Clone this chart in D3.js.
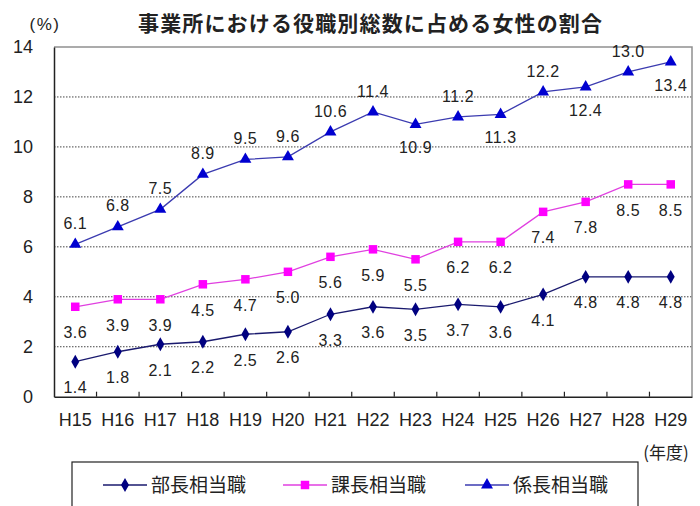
<!DOCTYPE html>
<html>
<head>
<meta charset="utf-8">
<script src="https://cdn.jsdelivr.net/npm/d3@7"></script>
<style>
  body { margin: 0; background: #fff; }
  text { font-family: "Liberation Sans", Arial, sans-serif; fill: #222; }
  .jp { font-family: "Noto Sans CJK JP", sans-serif; }
</style>
</head>
<body>
<div id="chart"></div>
<script>
// data
var years = ["H15","H16","H17","H18","H19","H20","H21","H22","H23","H24","H25","H26","H27","H28","H29"];
var bucho = [1.4,1.8,2.1,2.2,2.5,2.6,3.3,3.6,3.5,3.7,3.6,4.1,4.8,4.8,4.8];
var kacho = [3.6,3.9,3.9,4.5,4.7,5.0,5.6,5.9,5.5,6.2,6.2,7.4,7.8,8.5,8.5];
var kakaricho = [6.1,6.8,7.5,8.9,9.5,9.6,10.6,11.4,10.9,11.2,11.3,12.2,12.4,13.0,13.4];
var seriesNames = ["部長相当職","課長相当職","係長相当職"];
var yTicks = [0,2,4,6,8,10,12,14];

var svgWidth = 700, svgHeight = 506;
var margin = {top: 47, right: 8, bottom: 109, left: 54};

var svg = d3.select("#chart").append("svg")
  .attr("width", svgWidth)
  .attr("height", svgHeight);

var x = d3.scaleBand()
  .domain(years)
  .range([margin.left, svgWidth - margin.right]);

var y = d3.scaleLinear()
  .domain([0, 14])
  .range([svgHeight - margin.bottom - 0.3, margin.top]);

var cx = function(i) { return x(years[i]) + x.bandwidth() / 2; };

// title and unit
svg.append("text")
  .attr("class", "jp")
  .attr("x", 370).attr("y", 24)
  .attr("dy", "0.35em")
  .attr("text-anchor", "middle")
  .attr("font-size", "21px")
  .attr("font-weight", "bold")
  .attr("fill", "#111")
  .attr("textLength", 464)
  .text("事業所における役職別総数に占める女性の割合");

svg.append("text")
  .attr("x", 45).attr("y", 24)
  .attr("dy", "0.35em")
  .attr("text-anchor", "middle")
  .attr("font-size", "17px")
  .attr("letter-spacing", "1.5px")
  .attr("fill", "#333")
  .text("(%)");

// gridlines
svg.append("g")
  .selectAll("line")
  .data(yTicks.filter(d => d > 0 && d < 14))
  .enter().append("line")
  .attr("x1", margin.left).attr("x2", svgWidth - margin.right)
  .attr("y1", d => y(d)).attr("y2", d => y(d))
  .attr("stroke", "#444")
  .attr("stroke-width", 1)
  .attr("stroke-dasharray", "1.5,1.5");

// plot frame (top and right gray)
svg.append("path")
  .attr("d", `M${margin.left},${y(14)}H${svgWidth - margin.right}V${y(0)}`)
  .attr("fill", "none")
  .attr("stroke", "#909090")
  .attr("stroke-width", 1.5);

// y axis
var leftAxis = d3.axisLeft(y).tickValues(yTicks).tickSize(0).tickPadding(21);
var gy = svg.append("g")
  .attr("transform", `translate(${margin.left},0)`)
  .call(leftAxis);
gy.select(".domain").attr("stroke", "#222").attr("stroke-width", 1.5);
gy.selectAll("text")
  .attr("font-size", "18px")
  .attr("font-family", "Liberation Sans, Arial, sans-serif")
  .attr("fill", "#333");

// x axis
var bottomAxis = d3.axisBottom(x).tickSize(0).tickPadding(17);
var gx = svg.append("g")
  .attr("transform", `translate(0,${y(0)})`)
  .call(bottomAxis);
gx.select(".domain").attr("stroke", "#222").attr("stroke-width", 1.5);
gx.selectAll("text")
  .attr("font-size", "18px")
  .attr("font-family", "Liberation Sans, Arial, sans-serif")
  .attr("fill", "#333");

// inward tick marks between categories
svg.append("g")
  .selectAll("line")
  .data(years.slice(1))
  .enter().append("line")
  .attr("x1", d => x(d)).attr("x2", d => x(d))
  .attr("y1", y(0)).attr("y2", y(0) - 5)
  .attr("stroke", "#222")
  .attr("stroke-width", 1.2);

// series
var diamond = d3.symbol().type(d3.symbolDiamond).size(55);
var square = d3.symbol().type(d3.symbolSquare).size(72);
var triangle = d3.symbol().type(d3.symbolTriangle).size(62);

var series = [
  {name: seriesNames[0], values: bucho, line: "#1a1a6e", fill: "#000080", sym: diamond},
  {name: seriesNames[1], values: kacho, line: "#e040e0", fill: "#ff00ff", sym: square},
  {name: seriesNames[2], values: kakaricho, line: "#3b3bb0", fill: "#0000d0", sym: triangle}
];

var line = d3.line()
  .x((d, i) => cx(i))
  .y(d => y(d));

series.forEach(function(s, k) {
  svg.append("path")
    .datum(s.values)
    .attr("d", line)
    .attr("fill", "none")
    .attr("stroke", s.line)
    .attr("stroke-width", 1.3);

  svg.append("g")
    .selectAll("path")
    .data(s.values)
    .enter().append("path")
    .attr("d", s.sym)
    .attr("transform", (d, i) => `translate(${cx(i)},${y(d)})`)
    .attr("fill", s.fill);

  svg.append("g")
    .selectAll("text")
    .data(s.values)
    .enter().append("text")
    .attr("x", (d, i) => cx(i))
    .attr("y", function(d, i) {
      if (k < 2) return y(d) + 26;
      // upper series: labels above, alternating below from H23 on
      var below = i >= 8 && i % 2 === 0;
      return below ? y(d) + 23 : y(d) - 21;
    })
    .attr("dy", "0.35em")
    .attr("text-anchor", "middle")
    .attr("font-size", "16px")
    .attr("letter-spacing", "0.5px")
    .attr("fill", "#333")
    .text(d => d.toFixed(1));
});

// year unit
svg.append("text")
  .attr("class", "jp")
  .attr("x", 666).attr("y", 453)
  .attr("dy", "0.35em")
  .attr("text-anchor", "middle")
  .attr("font-size", "17px")
  .attr("fill", "#333")
  .text("(年度)");

// legend
var legend = svg.append("g");
legend.append("rect")
  .attr("x", 72).attr("y", 462)
  .attr("width", 566).attr("height", 60)
  .attr("fill", "#fff")
  .attr("stroke", "#222")
  .attr("stroke-width", 1.2);

var legendX = [103, 283, 465];
series.forEach(function(s, k) {
  var g = legend.append("g").attr("transform", `translate(${legendX[k]},485)`);
  g.append("line")
    .attr("x1", 0).attr("x2", 44)
    .attr("stroke", s.line).attr("stroke-width", 1.6);
  g.append("path")
    .attr("d", s.sym)
    .attr("transform", "translate(22,0)")
    .attr("fill", s.fill);
  g.append("text")
    .attr("class", "jp")
    .attr("x", 48)
    .attr("dy", "0.35em")
    .attr("font-size", "19px")
    .attr("fill", "#333")
    .text(s.name);
});
</script>
</body>
</html>
